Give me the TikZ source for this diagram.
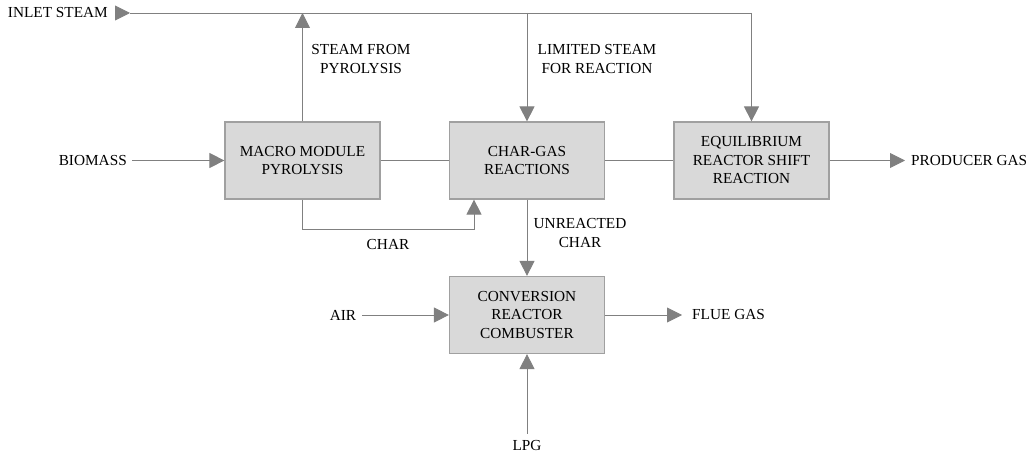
\documentclass[tikz,border=0pt]{standalone}
\usepackage{fontspec}
\setmainfont{Liberation Serif}
\usetikzlibrary{arrows.meta}
\definecolor{lineg}{RGB}{128,128,128}
\definecolor{boxfill}{RGB}{217,217,217}
\definecolor{boxdraw}{RGB}{160,160,160}
\begin{document}
\begin{tikzpicture}[x=1pt,y=-1pt,
  font=\fontsize{15.3}{18.5}\selectfont,
  block/.style={draw=boxdraw,line width=1.2pt,fill=boxfill,minimum width=155pt,minimum height=77pt,align=center,inner sep=0pt},
  lbl/.style={inner sep=0pt,align=center,text=black},
  wire/.style={draw=lineg,line width=0.9pt},
  arr/.style={wire,-{Triangle[length=15pt,width=15pt]}, color=lineg}
]
\useasboundingbox (0,0) rectangle (1029,457);
% blocks
\node[block] (pyro) at (302.5,160.5) {MACRO MODULE\\PYROLYSIS};
\node[block] (char) at (527,160.5) {CHAR-GAS\\REACTIONS};
\node[block] (equil) at (751.5,160.5) {EQUILIBRIUM\\REACTOR SHIFT\\REACTION};
\node[block] (conv) at (527,315) {CONVERSION\\REACTOR\\COMBUSTER};
% text labels
\node[lbl,anchor=east] (inlet) at (108,13) {INLET STEAM};
\node[lbl,anchor=east] (biomass) at (127,160.5) {BIOMASS};
\node[lbl,anchor=west] (producer) at (911,160.5) {PRODUCER GAS};
\node[lbl] (air) at (343,315) {AIR};
\node[lbl,anchor=west] (flue) at (692,315) {FLUE GAS};
\node[lbl] (lpg) at (527,446) {LPG};
\node[lbl] (steamfrom) at (361,59) {STEAM FROM\\PYROLYSIS};
\node[lbl] (limited) at (597,59) {LIMITED STEAM\\FOR REACTION};
\node[lbl] (charlbl) at (388,245) {CHAR};
\node[lbl] (unreacted) at (580,233) {UNREACTED\\CHAR};
% coordinates
\coordinate (s0) at (115,13);
\coordinate (s1) at (130,13);
\coordinate (s2) at (751.5,13);
\coordinate (c1) at (474,229.5);
\coordinate (pgtip) at (905,160.5);
\coordinate (fluetip) at (682,315);
% connectors
\draw[arr] (s0) -- (s1);
\draw[wire] (s1) -- (s2);
\draw[arr] (s2) -- (equil.north);
\draw[arr] (pyro.north) -- (pyro.north |- s1);
\draw[arr] (char.north |- s1) -- (char.north);
\draw[arr,shorten <=5pt] (biomass.east) -- (pyro.west);
\draw[wire] (pyro.east) -- (char.west);
\draw[wire] (char.east) -- (equil.west);
\draw[arr] (equil.east) -- (pgtip);
\draw[arr] (pyro.south) |- (c1) -- (c1 |- char.south);
\draw[arr] (char.south) -- (conv.north);
\draw[arr,shorten <=6pt] (air.east) -- (conv.west);
\draw[arr] (conv.east) -- (fluetip);
\draw[arr,shorten <=7pt] (lpg.north) -- (conv.south);
\end{tikzpicture}
\end{document}
